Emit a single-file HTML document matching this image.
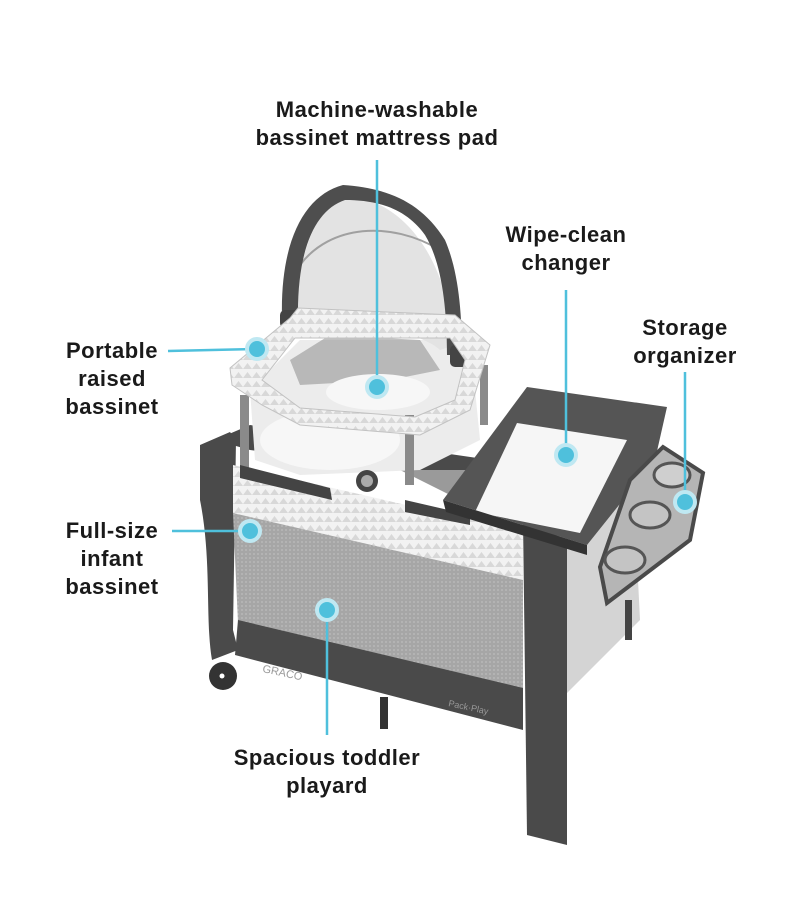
<!DOCTYPE html>
<html><head><meta charset="utf-8"><style>
html,body{margin:0;padding:0;background:#fff;}
body{width:800px;height:900px;position:relative;overflow:hidden;font-family:"Liberation Sans","DejaVu Sans",sans-serif;}
.l{position:absolute;font-weight:bold;font-size:22px;line-height:28px;color:#1a1a1a;text-align:center;letter-spacing:0.5px;}
svg{position:absolute;left:0;top:0;}
</style></head><body>
<svg width="800" height="900" viewBox="0 0 800 900">
<defs>
<pattern id="tri" width="9" height="9" patternUnits="userSpaceOnUse"><rect width="9" height="9" fill="#f2f2f2"/><path d="M0 9 L4.5 3 L9 9Z" fill="#d8d8d8"/></pattern>
<pattern id="mesh" width="4" height="4" patternUnits="userSpaceOnUse"><rect width="4" height="4" fill="#a6a6a6"/><circle cx="2" cy="2" r="0.9" fill="#bcbcbc"/></pattern>
</defs>
<!-- back structure -->
<polygon points="215,440 250,425 560,470 560,490 250,450" fill="#4a4a4a"/>
<polygon points="560,480 630,420 640,620 560,700" fill="#d4d4d4"/>
<polygon points="400,470 520,470 540,490 460,500" fill="#9a9a9a"/>
<!-- bassinet basket -->
<polygon points="250,390 300,340 470,340 480,440 420,470 300,475 255,460" fill="#ececec"/>
<ellipse cx="330" cy="440" rx="70" ry="30" fill="#f7f7f7"/>
<polygon points="290,360 330,335 420,340 440,370 390,380 300,385" fill="#8e8e8e" opacity="0.55"/>
<rect x="240" y="395" width="9" height="75" fill="#8a8a8a"/>
<rect x="405" y="415" width="9" height="70" fill="#8a8a8a"/>
<rect x="480" y="365" width="8" height="60" fill="#8a8a8a"/>
<!-- canopy fabric -->
<path d="M295,320 C298,250 318,205 345,195 C400,200 445,250 455,345 L440,350 C420,330 330,315 295,320Z" fill="#e3e3e3"/>
<path d="M300,265 C330,225 390,220 440,250" stroke="#a0a0a0" stroke-width="2" fill="none"/>
<!-- canopy arch -->
<path d="M282,318 C280,240 305,195 343,185 C385,188 420,200 445,240 C458,270 462,310 462,355 L447,355 C447,300 440,260 425,235 C405,207 375,200 345,200 C315,210 297,250 298,318Z" fill="#4e4e4e"/>
<rect x="280" y="310" width="20" height="18" rx="5" fill="#444"/>
<rect x="450" y="345" width="20" height="22" rx="5" fill="#444"/>
<!-- bassinet ring -->
<path d="M230,368 L290,318 L298,308 L455,315 L490,345 L470,410 L420,435 L300,425 L262,405 L232,385Z M262,380 L295,338 L450,338 L465,360 L455,400 L415,417 L300,408Z" fill="url(#tri)" fill-rule="evenodd" stroke="#c2c2c2"/>
<ellipse cx="378" cy="392" rx="52" ry="18" fill="#f7f7f7"/>
<!-- left post -->
<path d="M200,445 L230,432 L236,440 L233,630 L238,650 L212,660 C205,620 212,560 200,500Z" fill="#4a4a4a"/>
<circle cx="223" cy="676" r="14" fill="#333"/><circle cx="222" cy="676" r="2.5" fill="#fff"/>
<!-- front panel -->
<polygon points="233,465 523,532 523,580 233,513" fill="url(#tri)"/>
<polygon points="233,513 523,580 523,690 238,623" fill="url(#mesh)"/>
<polygon points="238,620 523,688 523,730 235,655" fill="#4a4a4a"/>
<polygon points="240,465 330,488 332,500 240,478" fill="#444"/>
<polygon points="405,500 470,515 470,525 405,512" fill="#444"/>
<circle cx="367" cy="481" r="11" fill="#444"/><circle cx="367" cy="481" r="6" fill="#aaa"/>
<text x="262" y="672" font-size="11" fill="#9a9a9a" transform="rotate(12 262 672)">GRACO</text>
<text x="448" y="706" font-size="9" fill="#999" transform="rotate(12 448 706)">Pack·Play</text>
<rect x="380" y="697" width="8" height="32" fill="#333"/>
<!-- right post -->
<polygon points="523,520 567,540 567,845 527,835" fill="#4a4a4a"/>
<rect x="625" y="600" width="7" height="40" fill="#444"/>
<!-- changer -->
<polygon points="527,387 667,407 655,460 587,545 443,500" fill="#555"/>
<polygon points="517,423 627,440 580,533 475,512" fill="#f6f6f6"/>
<polygon points="443,500 587,545 587,555 446,512" fill="#333"/>
<!-- organizer -->
<polygon points="663,447 703,473 690,540 607,603 600,567 630,480" fill="#b5b5b5" stroke="#4a4a4a" stroke-width="4"/>
<ellipse cx="672" cy="475" rx="18" ry="12" fill="#cfcfcf" stroke="#555" stroke-width="3"/>
<ellipse cx="650" cy="515" rx="20" ry="13" fill="#c4c4c4" stroke="#555" stroke-width="3"/>
<ellipse cx="625" cy="560" rx="20" ry="13" fill="#c4c4c4" stroke="#555" stroke-width="3"/>
<!-- callout lines -->
<g stroke="#4fc0dc" stroke-width="2.5" fill="none">
<line x1="377" y1="160" x2="377" y2="385"/>
<line x1="566" y1="290" x2="566" y2="455"/>
<line x1="685" y1="372" x2="685" y2="500"/>
<line x1="168" y1="351" x2="257" y2="349"/>
<line x1="172" y1="531" x2="250" y2="531"/>
<line x1="327" y1="612" x2="327" y2="735"/>
</g>
<g fill="#4fc0dc" stroke="#bfe8f2" stroke-width="4">
<circle cx="377" cy="387" r="10"/><circle cx="566" cy="455" r="10"/><circle cx="685" cy="502" r="10"/>
<circle cx="257" cy="349" r="10"/><circle cx="250" cy="531" r="10"/><circle cx="327" cy="610" r="10"/>
</g>
</svg>
<div class="l" style="left:227px;top:96px;width:300px;">Machine-washable<br>bassinet mattress pad</div>
<div class="l" style="left:466px;top:221px;width:200px;">Wipe-clean<br>changer</div>
<div class="l" style="left:590px;top:314px;width:190px;">Storage<br>organizer</div>
<div class="l" style="left:32px;top:337px;width:160px;">Portable<br>raised<br>bassinet</div>
<div class="l" style="left:32px;top:517px;width:160px;">Full-size<br>infant<br>bassinet</div>
<div class="l" style="left:197px;top:744px;width:260px;">Spacious toddler<br>playard</div>
</body></html>
